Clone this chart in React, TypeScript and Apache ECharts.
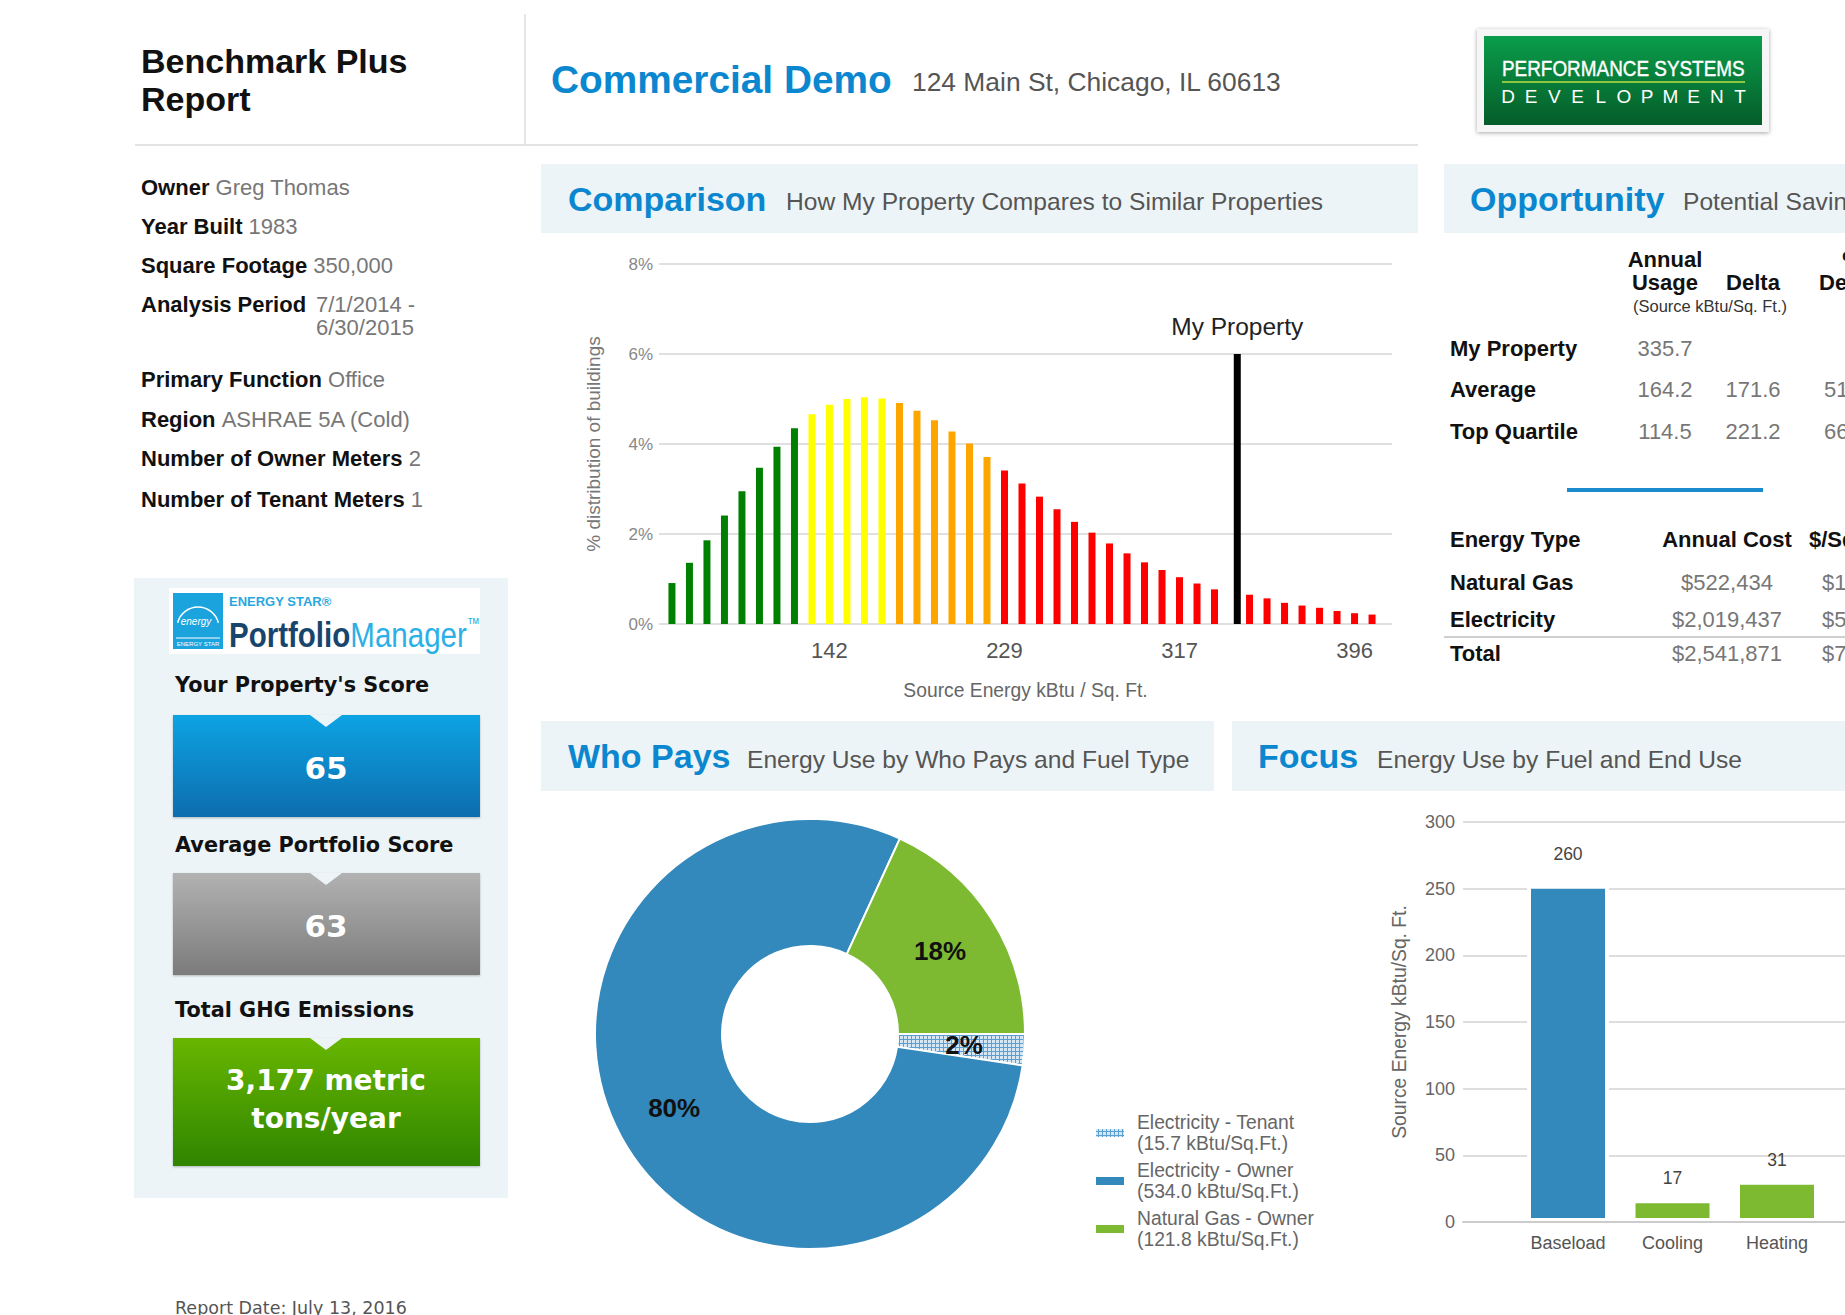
import React, { useEffect, useRef } from 'react';
import * as echarts from 'echarts';

const PAGE_W = 1845;
const PAGE_H = 1315;
const AR = '"Liberation Sans", Arial, Helvetica, sans-serif';
const VD = '"DejaVu Sans", Verdana, sans-serif';

// ---------- data ----------
const INFO_LABELS = ['Owner', 'Year Built', 'Square Footage', 'Analysis Period', 'Primary Function', 'Region', 'Number of Owner Meters', 'Number of Tenant Meters'];
const INFO_VALUES = ['Greg Thomas', '1983', '350,000', '7/1/2014 -|6/30/2015', 'Office', 'ASHRAE 5A (Cold)', '2', '1'];

const SCORE_TITLES = ["Your Property's Score", 'Average Portfolio Score', 'Total GHG Emissions'];
const SCORE_VALUES = ['65', '63', '3,177 metric|tons/year'];

// % distribution of buildings per source-energy bin (bin 32 holds no bar)
const DIST_PCT = [0.91, 1.36, 1.86, 2.41, 2.95, 3.47, 3.94, 4.35, 4.66, 4.87, 5.0, 5.04, 5.01, 4.91, 4.74, 4.53, 4.28, 4.01, 3.71, 3.41, 3.12, 2.83, 2.55, 2.27, 2.03, 1.79, 1.57, 1.37, 1.2, 1.04, 0.9, 0.77, null, 0.65, 0.57, 0.47, 0.41, 0.36, 0.29, 0.24, 0.21];
const DIST_TICK_BINS = [9, 19, 29, 39];
const DIST_TICK_LABELS = ['142', '229', '317', '396'];
const GREEN_LAST_BIN = 7;
const YELLOW_LAST_BIN = 12;
const ORANGE_LAST_BIN = 18;
const MY_PROPERTY_BIN = 32.3;
const MY_PROPERTY_PCT = 6.0;

const OPP_ROWS = ['My Property', 'Average', 'Top Quartile'];
const OPP_USAGE = ['335.7', '164.2', '114.5'];
const OPP_DELTA = ['', '171.6', '221.2'];
const OPP_PCT = ['', '51%', '66%'];
const COST_TYPES = ['Natural Gas', 'Electricity', 'Total'];
const COST_ANNUAL = ['$522,434', '$2,019,437', '$2,541,871'];
const COST_SQFT = ['$1.49', '$5.77', '$7.26'];

const WHO_NAMES = ['Electricity - Tenant', 'Electricity - Owner', 'Natural Gas - Owner'];
const WHO_VALUES = [15.7, 534.0, 121.8];

const FOCUS_CATS = ['Baseload', 'Cooling', 'Heating'];
const FOCUS_ELEC_OWNER = [253, 0, 0];
const FOCUS_ELEC_TENANT = [2, 0, 0];
const FOCUS_GAS = [5, 17, 31];

// ---------- styles ----------
const BLUE_T = '#0b87cf';
const BAND = '#edf4f7';
const C_BLUE = '#3388bc';
const C_TENANT = '#5a9fd0';
const C_GREEN = '#7dba32';
const TENANT_DECAL = { symbol: 'rect', symbolSize: 1, dashArrayX: [3, 1], dashArrayY: [3, 1], color: 'rgba(255,255,255,0.75)', rotation: 0 };

function T(text: string, x: number, y: number, font: string, fill: string, align = 'left', extra: any = {}) {
  return {
    type: 'text', silent: true,
    style: { x, y, text, font, fill, align, verticalAlign: 'middle', textAlign: align, textVerticalAlign: 'middle', ...extra },
  };
}
function R(x: number, y: number, w: number, h: number, fill: any, extra: any = {}) {
  return { type: 'rect', silent: true, shape: { x, y, width: w, height: h }, style: { fill, ...extra } };
}
function L(x1: number, y1: number, x2: number, y2: number, stroke: string, lineWidth: number) {
  return { type: 'line', silent: true, shape: { x1, y1, x2, y2 }, style: { stroke, lineWidth } };
}
function grad(top: string, bottom: string) {
  return new echarts.graphic.LinearGradient(0, 0, 0, 1, [{ offset: 0, color: top }, { offset: 1, color: bottom }]);
}

function binColor(i: number) {
  if (i <= GREEN_LAST_BIN) return '#008000';
  if (i <= YELLOW_LAST_BIN) return '#ffff00';
  if (i <= ORANGE_LAST_BIN) return '#ffa500';
  return '#ff0000';
}

function buildGraphics() {
  const g: any[] = [];
  // header
  g.push(T('Benchmark Plus', 141, 61, `bold 34px ${AR}`, '#111'));
  g.push(T('Report', 141, 99, `bold 34px ${AR}`, '#111'));
  g.push(L(525, 14, 525, 145, '#e6e6e6', 2));
  g.push(L(135, 145, 1418, 145, '#e3e3e3', 2));
  g.push(T('Commercial Demo', 551, 79, `bold 38.8px ${AR}`, BLUE_T));
  g.push(T('124 Main St, Chicago, IL 60613', 912, 82, `26.4px ${AR}`, '#555'));

  // PSD logo
  g.push(R(1477, 29, 292, 103, '#f6f6f6', { shadowBlur: 4, shadowColor: 'rgba(0,0,0,0.35)', shadowOffsetY: 1 }));
  g.push(R(1484, 36, 278, 89, grad('#0a9d4b', '#055d29')));
  g.push({ type: 'text', silent: true, x: 1502, y: 68, scaleX: 0.86, style: { x: 0, y: 0, text: 'PERFORMANCE SYSTEMS', font: `22px ${AR}`, fill: '#fff', align: 'left', verticalAlign: 'middle', textAlign: 'left', textVerticalAlign: 'middle', stroke: '#fff', lineWidth: 0.4 } });
  g.push(L(1502, 82, 1745, 82, '#8dc63f', 2));
  const dev = 'DEVELOPMENT';
  for (let i = 0; i < dev.length; i++) {
    g.push(T(dev[i], 1508 + (i * (1740 - 1508)) / (dev.length - 1), 96, `19px ${AR}`, '#fff', 'center'));
  }

  // property info
  const rowY = [187, 226, 265, 304, 379, 419, 458, 499];
  INFO_LABELS.forEach((lab, i) => {
    const val = INFO_VALUES[i];
    if (val.includes('|')) {
      const parts = val.split('|');
      g.push(T(lab, 141, rowY[i], `bold 22px ${AR}`, '#111'));
      g.push(T(parts[0], 316, rowY[i], `22px ${AR}`, '#777'));
      g.push(T(parts[1], 316, rowY[i] + 23, `22px ${AR}`, '#777'));
    } else {
      g.push({
        type: 'text', silent: true,
        style: {
          x: 141, y: rowY[i], text: `{b|${lab}} {v|${val}}`, font: `22px ${AR}`, fill: '#111', verticalAlign: 'middle', textVerticalAlign: 'middle',
          rich: { b: { font: `bold 22px ${AR}`, fill: '#111' }, v: { font: `22px ${AR}`, fill: '#777' } },
        },
      });
    }
  });

  // Energy star panel
  g.push(R(134, 578, 374, 620, BAND));
  g.push(R(169, 588, 311, 66, '#fff'));
  g.push(R(173, 593, 50, 56, '#1ba3de'));
  g.push({ type: 'arc', silent: true, shape: { cx: 198, cy: 628, r: 21, startAngle: Math.PI * 1.08, endAngle: Math.PI * 1.92 }, style: { stroke: '#fff', lineWidth: 1.5, fill: null } });
  g.push(T('energy', 196, 621, `italic 10px ${AR}`, '#fff', 'center'));
  g.push(L(176, 638, 220, 638, '#fff', 1));
  g.push(T('ENERGY STAR', 198, 644, `6px ${AR}`, '#fff', 'center'));
  g.push(T('ENERGY STAR®', 229, 601, `bold 13px ${AR}`, '#2aa7df'));
  g.push({
    type: 'text', silent: true, x: 229, y: 634, scaleX: 0.82,
    style: {
      x: 0, y: 0, text: '{p|Portfolio}{m|Manager}{t|™}', font: `36px ${AR}`, fill: '#17456e', verticalAlign: 'middle', textVerticalAlign: 'middle',
      rich: { p: { font: `bold 36px ${AR}`, fill: '#17456e' }, m: { font: `36px ${AR}`, fill: '#2ab0e6' }, t: { font: `16px ${AR}`, fill: '#2ab0e6', verticalAlign: 'top' } },
    },
  });

  const titleY = [685, 845, 1010];
  const boxes = [
    { y: 715, h: 102, fill: grad('#0ea3e3', '#0a6dae') },
    { y: 873, h: 102, fill: grad('#b2b2b2', '#7b7b7b') },
    { y: 1038, h: 128, fill: grad('#68b600', '#2f8500') },
  ];
  SCORE_TITLES.forEach((t, i) => {
    g.push(T(t, 175, titleY[i], `bold 20.8px ${VD}`, '#111'));
    const b = boxes[i];
    g.push(R(173, b.y, 307, b.h, b.fill, { shadowBlur: 2, shadowColor: 'rgba(0,0,0,0.25)', shadowOffsetY: 1 }));
    g.push({ type: 'polygon', silent: true, shape: { points: [[310, b.y], [342, b.y], [326, b.y + 12]] }, style: { fill: BAND } });
    const parts = SCORE_VALUES[i].split('|');
    const sh = { shadowColor: 'rgba(0,0,0,0.45)', shadowBlur: 2, shadowOffsetY: 1 };
    if (parts.length === 1) {
      g.push(T(parts[0], 326, b.y + b.h / 2 + 2, `bold 31px ${VD}`, '#fff', 'center', sh));
    } else {
      g.push(T(parts[0], 326, b.y + 42, `bold 28px ${VD}`, '#fff', 'center', sh));
      g.push(T(parts[1], 326, b.y + 80, `bold 28px ${VD}`, '#fff', 'center', sh));
    }
  });
  g.push(T('Report Date: July 13, 2016', 175, 1308, `17.5px ${VD}`, '#555'));

  // section bands
  const bands = [
    { x: 541, y: 164, w: 877, h: 69, title: 'Comparison', tx: 568, sub: 'How My Property Compares to Similar Properties', sx: 786 },
    { x: 1444, y: 164, w: 401, h: 69, title: 'Opportunity', tx: 1470, sub: 'Potential Savings', sx: 1683 },
    { x: 541, y: 721, w: 673, h: 70, title: 'Who Pays', tx: 568, sub: 'Energy Use by Who Pays and Fuel Type', sx: 747 },
    { x: 1232, y: 721, w: 613, h: 70, title: 'Focus', tx: 1258, sub: 'Energy Use by Fuel and End Use', sx: 1377 },
  ];
  bands.forEach((b) => {
    g.push(R(b.x, b.y, b.w, b.h, BAND));
    const cy = b.y + b.h / 2;
    g.push(T(b.title, b.tx, cy, `bold 34px ${AR}`, BLUE_T));
    g.push(T(b.sub, b.sx, cy + 3, `24.6px ${AR}`, '#555'));
  });

  // opportunity table
  const B22 = `bold 22px ${AR}`;
  const N22 = `22px ${AR}`;
  g.push(T('Annual', 1665, 259, B22, '#111', 'center'));
  g.push(T('Usage', 1665, 282, B22, '#111', 'center'));
  g.push(T('Delta', 1753, 282, B22, '#111', 'center'));
  g.push(T('%', 1852, 259, B22, '#111', 'center'));
  g.push(T('Delta', 1846, 282, B22, '#111', 'center'));
  g.push(T('(Source kBtu/Sq. Ft.)', 1710, 306, `16.5px ${AR}`, '#333', 'center'));
  const oppY = [348, 389, 431];
  OPP_ROWS.forEach((r, i) => {
    g.push(T(r, 1450, oppY[i], B22, '#111'));
    g.push(T(OPP_USAGE[i], 1665, oppY[i], N22, '#777', 'center'));
    if (OPP_DELTA[i]) g.push(T(OPP_DELTA[i], 1753, oppY[i], N22, '#777', 'center'));
    if (OPP_PCT[i]) g.push(T(OPP_PCT[i], 1846, oppY[i], N22, '#777', 'center'));
  });
  g.push(L(1567, 490, 1763, 490, '#1b8bd0', 4));
  g.push(T('Energy Type', 1450, 539, B22, '#111'));
  g.push(T('Annual Cost', 1727, 539, B22, '#111', 'center'));
  g.push(T('$/Sq. Ft.', 1809, 539, B22, '#111'));
  const costY = [582, 619, 653];
  COST_TYPES.forEach((c, i) => {
    g.push(T(c, 1450, costY[i], B22, '#111'));
    g.push(T(COST_ANNUAL[i], 1727, costY[i], N22, '#777', 'center'));
    g.push(T(COST_SQFT[i], 1822, costY[i], N22, '#777'));
  });
  g.push(L(1444, 637, 1845, 637, '#cfcfcf', 2));
  return g;
}

function buildOption() {
  const distData: any[] = [];
  DIST_PCT.forEach((v, i) => {
    if (v != null) distData.push({ value: [i, v], itemStyle: { color: binColor(i) } });
  });
  const focusData = (arr: number[]) =>
    arr.map((v) => (v === 0 ? { value: 0, itemStyle: { borderWidth: 0 } } : { value: v }));
  const focusTotals = FOCUS_CATS.map((_, i) => FOCUS_ELEC_OWNER[i] + FOCUS_ELEC_TENANT[i] + FOCUS_GAS[i]);
  const barBorder = { borderColor: '#fff', borderWidth: 4 };
  const FOCUS_MAX = 300;

  return {
    animation: false,
    backgroundColor: '#ffffff',
    textStyle: { fontFamily: AR },
    grid: [
      { left: 659, right: 453, top: 264, bottom: 691 },
      // frame of the focus chart (gridlines, y axis) – runs past the page edge
      { left: 1463, width: 470, top: 822, bottom: 93 },
      // bar area of the focus chart
      { left: 1515.75, width: 313.5, top: 822, bottom: 93 },
    ],
    xAxis: [
      {
        type: 'value', gridIndex: 0, min: -0.74, max: 41.14,
        axisLine: { show: false }, axisTick: { show: false }, splitLine: { show: false },
        axisLabel: {
          customValues: DIST_TICK_BINS, margin: 15, color: '#555', fontSize: 22, fontFamily: AR,
          formatter: (v: number) => { const k = DIST_TICK_BINS.indexOf(Math.round(v)); return k >= 0 ? DIST_TICK_LABELS[k] : ''; },
        },
        name: 'Source Energy kBtu / Sq. Ft.', nameLocation: 'middle', nameGap: 57,
        nameTextStyle: { color: '#666', fontSize: 19.3, fontFamily: AR },
      },
      {
        type: 'value', gridIndex: 1, min: 0, max: 1, z: 5,
        axisLine: { show: true, lineStyle: { color: '#cccccc', width: 2 } }, axisTick: { show: false }, splitLine: { show: false },
        axisLabel: { show: false },
      },
      {
        type: 'category', gridIndex: 2, data: FOCUS_CATS,
        axisLine: { show: false }, axisTick: { show: false }, splitLine: { show: false },
        axisLabel: { margin: 12, color: '#555', fontSize: 18, fontFamily: AR },
      },
    ],
    yAxis: [
      {
        type: 'value', gridIndex: 0, min: 0, max: 8, interval: 2,
        axisLine: { show: false }, axisTick: { show: false },
        splitLine: { lineStyle: { color: '#e0e0e0', width: 2 } },
        axisLabel: { formatter: '{value}%', color: '#888', fontSize: 17, margin: 6, fontFamily: AR },
        name: '% distribution of buildings', nameLocation: 'middle', nameGap: 56, nameRotate: 90,
        nameTextStyle: { color: '#777', fontSize: 19, fontFamily: AR },
      },
      {
        type: 'value', gridIndex: 1, min: 0, max: FOCUS_MAX, interval: 50,
        axisLine: { show: false }, axisTick: { show: false },
        splitLine: { lineStyle: { color: '#dddddd', width: 2 } },
        axisLabel: { color: '#666', fontSize: 18, margin: 8, fontFamily: AR },
        name: 'Source Energy kBtu/Sq. Ft.', nameLocation: 'middle', nameGap: 54, nameRotate: 90,
        nameTextStyle: { color: '#666', fontSize: 19.3, fontFamily: AR },
      },
      {
        type: 'value', gridIndex: 2, min: 0, max: FOCUS_MAX, show: false,
      },
    ],
    legend: {
      orient: 'vertical', left: 1094, top: 1112, padding: 0, data: WHO_NAMES, icon: 'rect',
      itemWidth: 30, itemHeight: 10, itemGap: 6, selectedMode: false,
      textStyle: { color: '#666', fontSize: 19.3, lineHeight: 21, fontFamily: AR, padding: [0, 0, 0, 7] },
      formatter: (name: string) => {
        const k = WHO_NAMES.indexOf(name);
        return `${name}\n(${WHO_VALUES[k].toFixed(1)} kBtu/Sq.Ft.)`;
      },
    },
    series: [
      {
        type: 'bar', name: 'Distribution', xAxisIndex: 0, yAxisIndex: 0, barWidth: 7, barGap: '-100%',
        data: distData, silent: true,
      },
      {
        type: 'bar', name: 'My Property', xAxisIndex: 0, yAxisIndex: 0, barWidth: 7, barGap: '-100%',
        data: [[MY_PROPERTY_BIN, MY_PROPERTY_PCT]], itemStyle: { color: '#000' }, silent: true,
        label: { show: true, position: 'top', distance: 15, formatter: 'My Property', color: '#222', fontSize: 24.5, fontFamily: AR },
      },
      {
        type: 'pie', name: 'Who Pays', center: [810, 1034], radius: [88, 215], startAngle: 0, clockwise: true, silent: true,
        data: WHO_NAMES.map((n, i) => ({
          name: n, value: WHO_VALUES[i],
          itemStyle: i === 0 ? { color: C_TENANT, decal: TENANT_DECAL } : { color: i === 1 ? C_BLUE : C_GREEN },
        })),
        itemStyle: { borderColor: '#fff', borderWidth: 2 },
        label: {
          show: true, position: 'inside', color: '#111', fontSize: 26, fontWeight: 'bold', fontFamily: AR,
          formatter: (p: any) => Math.round(p.percent) + '%',
        },
        labelLine: { show: false },
        emphasis: { disabled: true },
      },
      {
        type: 'bar', name: 'Electricity (Owner)', xAxisIndex: 2, yAxisIndex: 2, stack: 'focus', barWidth: 82, silent: true,
        data: focusData(FOCUS_ELEC_OWNER), itemStyle: { color: C_BLUE, ...barBorder },
      },
      {
        type: 'bar', name: 'Electricity (Tenant)', xAxisIndex: 2, yAxisIndex: 2, stack: 'focus', barWidth: 82, silent: true,
        data: focusData(FOCUS_ELEC_TENANT), itemStyle: { color: C_TENANT, decal: TENANT_DECAL, ...barBorder },
      },
      {
        type: 'bar', name: 'Natural Gas', xAxisIndex: 2, yAxisIndex: 2, stack: 'focus', barWidth: 82, silent: true,
        data: focusData(FOCUS_GAS), itemStyle: { color: C_GREEN, ...barBorder },
        label: {
          show: true, position: 'top', distance: 12, color: '#444', fontSize: 17.5, fontFamily: AR,
          formatter: (p: any) => String(Math.round(focusTotals[p.dataIndex])),
        },
      },
    ],
    graphic: { elements: buildGraphics() },
  };
}

export default function App() {
  const ref = useRef<HTMLDivElement>(null);
  useEffect(() => {
    if (!ref.current) return;
    const chart = echarts.init(ref.current, null, { renderer: 'svg', width: PAGE_W, height: PAGE_H });
    chart.setOption(buildOption() as any);
    return () => chart.dispose();
  }, []);
  return (
    <div style={{ position: 'fixed', left: 0, top: 0, width: PAGE_W, height: PAGE_H, overflow: 'hidden', background: '#fff' }}>
      <div ref={ref} style={{ width: PAGE_W, height: PAGE_H }} />
    </div>
  );
}
